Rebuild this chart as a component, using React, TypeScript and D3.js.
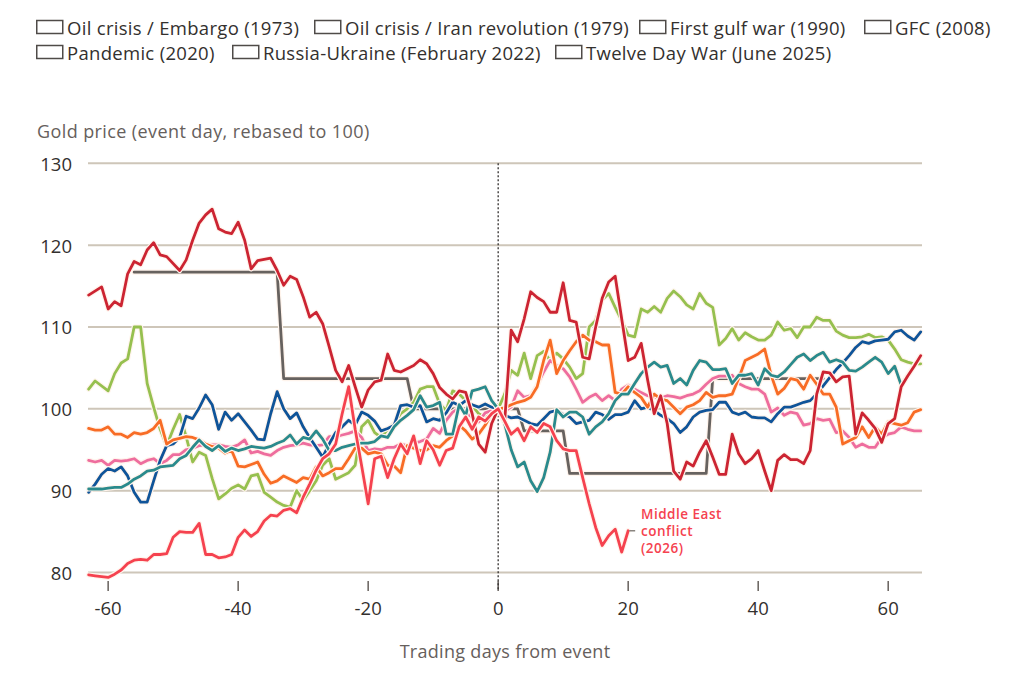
import React from "react";
import * as d3 from "d3";

// ---------- DATA ----------
const legendLabels = [
  "Oil crisis / Embargo (1973)",
  "Oil crisis / Iran revolution (1979)",
  "First gulf war (1990)",
  "GFC (2008)",
  "Pandemic (2020)",
  "Russia-Ukraine (February 2022)",
  "Twelve Day War (June 2025)",
];

const yTicks = [80, 90, 100, 110, 120, 130];
const xTicks = [-60, -40, -20, 0, 20, 40, 60];

const embargo1973: [number, number][] = [
  [-56, 116.7], [-34, 116.7], [-33, 103.7], [-14, 103.7], [-13, 100], [3, 100],
  [4, 97.3], [10, 97.3], [11, 92.1], [32, 92.1], [33, 103.7], [50, 103.7],
];

const iran1979: [number, number][] = [
  [-63, 113.9], [-61, 114.9], [-60, 112.2], [-59, 113.1], [-58, 112.6], [-57, 116.5], [-56, 118.0],
  [-55, 117.6], [-54, 119.4], [-53, 120.3], [-52, 118.8], [-51, 118.6], [-49, 116.9], [-48, 118.2],
  [-47, 120.6], [-46, 122.7], [-45, 123.7], [-44, 124.4], [-43, 122.0], [-42, 121.6], [-41, 121.4],
  [-40, 122.8], [-39, 120.6], [-38, 117.1], [-37, 118.1], [-35, 118.4], [-34, 116.9], [-33, 115.1],
  [-32, 116.2], [-31, 115.8], [-30, 113.7], [-29, 111.2], [-28, 111.8], [-27, 110.4], [-26, 107.6],
  [-25, 104.7], [-24, 103.3], [-23, 105.3], [-22, 102.7], [-21, 100.2], [-20, 102.3], [-19, 103.3],
  [-18, 103.5], [-17, 106.7], [-16, 104.7], [-15, 104.5], [-14, 104.9], [-13, 105.3], [-12, 106.0],
  [-11, 105.5], [-10, 104.3], [-9, 102.6], [-8, 101.8], [-7, 101.2], [-6, 102.2], [-5, 102.0],
  [-4, 99.4], [-3, 95.7], [-2, 94.7], [-1, 98.2], [0, 100], [1, 98.5], [2, 109.6], [3, 108.2],
  [4, 111.0], [5, 114.3], [6, 113.6], [7, 113.1], [8, 111.8], [9, 111.8], [10, 115.4], [11, 110.8],
  [12, 110.6], [13, 106.3], [14, 106.1], [15, 110.0], [16, 113.5], [17, 115.5], [18, 116.2],
  [19, 111.0], [20, 105.9], [21, 106.3], [22, 108.0], [23, 103.5], [24, 99.4], [25, 101.6],
  [26, 98.2], [27, 92.4], [28, 91.4], [29, 93.5], [30, 93.0], [31, 94.7], [32, 96.1], [33, 94.1],
  [34, 92.0], [35, 92.0], [36, 96.9], [37, 94.5], [38, 93.3], [39, 93.9], [40, 94.9], [41, 92.4],
  [42, 90.0], [43, 93.7], [44, 94.4], [45, 93.8], [46, 93.8], [47, 93.3], [48, 94.9], [49, 101.8],
  [50, 104.5], [51, 104.4], [52, 103.3], [53, 103.9], [54, 104.0], [55, 96.9], [56, 99.5],
  [57, 98.6], [58, 97.6], [59, 95.9], [60, 98.2], [61, 98.8], [62, 102.7], [63, 104.0], [64, 105.2],
  [65, 106.5],
];

const gulf1990: [number, number][] = [
  [-63, 102.4], [-62, 103.4], [-60, 102.2], [-59, 104.3], [-58, 105.6], [-57, 106.1], [-56, 110.0],
  [-55, 110.0], [-54, 103.1], [-53, 100.2], [-52, 97.5], [-51, 95.5], [-50, 97.5], [-49, 99.3],
  [-48, 96.6], [-47, 93.5], [-46, 94.7], [-45, 94.3], [-44, 91.5], [-43, 89.0], [-42, 89.6],
  [-41, 90.3], [-40, 90.7], [-39, 90.2], [-38, 91.8], [-37, 92.0], [-36, 89.8], [-35, 89.2],
  [-34, 88.6], [-33, 88.2], [-32, 88.0], [-31, 90.0], [-30, 88.8], [-29, 90.0], [-28, 91.2],
  [-27, 93.1], [-26, 93.9], [-25, 91.4], [-24, 91.8], [-23, 92.2], [-22, 93.1], [-21, 97.8],
  [-20, 98.6], [-19, 97.1], [-18, 96.5], [-17, 97.5], [-16, 98.2], [-15, 99.4], [-14, 100.0],
  [-13, 100.8], [-12, 102.4], [-11, 102.7], [-10, 102.7], [-9, 100.6], [-8, 99.8], [-7, 102.2],
  [-6, 101.8], [-5, 101.0], [-4, 100.4], [-3, 99.4], [-2, 99.0], [-1, 99.6], [0, 100], [1, 101.8],
  [2, 104.7], [3, 104.1], [4, 106.8], [5, 103.7], [6, 106.5], [7, 107.0], [8, 105.9], [9, 106.8],
  [10, 106.1], [11, 105.1], [12, 103.7], [13, 104.3], [14, 110.0], [15, 110.8], [16, 113.3],
  [17, 114.1], [18, 112.4], [19, 110.8], [20, 109.0], [21, 108.8], [22, 112.2], [23, 111.8],
  [24, 112.5], [25, 111.8], [26, 113.5], [27, 114.4], [28, 113.7], [29, 112.7], [30, 112.2],
  [31, 114.1], [32, 112.9], [33, 112.4], [34, 107.8], [35, 108.6], [36, 109.8], [37, 108.4],
  [38, 109.3], [39, 108.8], [40, 108.4], [41, 108.4], [42, 109.0], [43, 110.6], [44, 109.6],
  [45, 109.8], [46, 108.7], [47, 110.0], [48, 110.0], [49, 111.2], [50, 110.8], [51, 110.8],
  [52, 109.5], [53, 109.0], [54, 108.7], [55, 108.7], [56, 108.8], [57, 109.1], [58, 108.7],
  [59, 108.8], [60, 108.4], [61, 107.3], [62, 106.0], [63, 105.7], [64, 105.5], [65, 105.5],
];

const gfc2008: [number, number][] = [
  [-63, 89.8], [-62, 90.8], [-61, 92.0], [-60, 92.7], [-59, 92.4], [-58, 92.9], [-57, 91.8],
  [-56, 89.8], [-55, 88.6], [-54, 88.6], [-53, 91.2], [-52, 93.7], [-51, 95.5], [-50, 95.7],
  [-49, 96.5], [-48, 99.1], [-47, 98.8], [-46, 100.1], [-45, 101.7], [-44, 100.5], [-43, 97.5],
  [-42, 99.6], [-41, 98.6], [-40, 99.4], [-39, 98.4], [-38, 97.4], [-37, 96.3], [-36, 96.2],
  [-35, 99.4], [-34, 102.1], [-33, 100.0], [-32, 98.8], [-31, 99.5], [-30, 97.8], [-29, 96.5],
  [-28, 95.3], [-27, 94.1], [-26, 95.7], [-25, 97.1], [-24, 97.8], [-23, 98.6], [-22, 98.0],
  [-21, 99.6], [-20, 99.2], [-19, 98.5], [-18, 97.3], [-17, 97.6], [-16, 98.0], [-15, 100.4],
  [-14, 100.5], [-13, 100.2], [-12, 100.4], [-11, 98.4], [-10, 98.8], [-9, 98.6], [-8, 99.5],
  [-7, 100.8], [-6, 100.4], [-5, 101.0], [-4, 100.5], [-3, 100.2], [-2, 100.6], [-1, 100.2],
  [0, 100], [1, 99.2], [2, 98.9], [3, 99.0], [4, 98.6], [5, 98.2], [6, 98.0], [7, 98.8], [8, 99.6],
  [9, 99.8], [10, 99.3], [11, 99.0], [12, 98.2], [13, 98.4], [14, 98.6], [15, 99.6], [16, 99.3],
  [17, 98.7], [18, 99.3], [19, 99.3], [20, 99.6], [21, 101.0], [22, 100.0], [23, 100.2],
  [24, 99.8], [25, 99.2], [26, 98.8], [27, 98.2], [28, 97.1], [29, 97.8], [30, 99.0], [31, 99.6],
  [32, 99.8], [33, 99.9], [34, 100.8], [35, 100.8], [36, 99.6], [37, 99.3], [38, 99.6], [39, 99.0],
  [40, 98.9], [41, 98.9], [42, 98.4], [43, 99.4], [44, 100.2], [45, 100.2], [46, 100.5],
  [47, 100.8], [48, 101.0], [49, 101.8], [50, 102.8], [51, 103.8], [52, 104.8], [53, 105.6],
  [54, 106.5], [55, 107.5], [56, 108.2], [57, 108.0], [58, 108.3], [59, 108.4], [60, 108.5],
  [61, 109.4], [62, 109.6], [63, 108.9], [64, 108.4], [65, 109.4],
];

const pandemic2020: [number, number][] = [
  [-63, 90.2], [-62, 90.2], [-61, 90.2], [-60, 90.3], [-59, 90.4], [-58, 90.4], [-57, 90.8],
  [-56, 91.4], [-55, 91.8], [-54, 92.4], [-53, 92.5], [-52, 92.9], [-51, 93.0], [-50, 93.1],
  [-49, 93.9], [-48, 94.3], [-47, 95.3], [-46, 96.2], [-45, 95.4], [-44, 94.9], [-43, 95.5],
  [-42, 94.8], [-41, 95.2], [-40, 94.9], [-39, 95.1], [-38, 95.4], [-37, 95.3], [-36, 95.2],
  [-35, 95.4], [-34, 95.8], [-33, 96.1], [-32, 96.8], [-31, 95.7], [-30, 96.5], [-29, 96.3],
  [-28, 97.3], [-27, 96.3], [-26, 94.9], [-25, 94.9], [-24, 95.3], [-23, 95.5], [-22, 95.7],
  [-21, 95.8], [-20, 95.8], [-19, 96.0], [-18, 96.7], [-17, 96.5], [-16, 97.8], [-15, 98.6],
  [-14, 99.2], [-13, 99.9], [-12, 101.6], [-11, 100.2], [-10, 100.4], [-9, 100.8], [-8, 96.9],
  [-7, 96.9], [-6, 100.5], [-5, 99.2], [-4, 102.2], [-3, 102.4], [-2, 102.7], [-1, 101.0],
  [0, 100], [1, 98.2], [2, 95.0], [3, 92.9], [4, 93.5], [5, 91.2], [6, 89.9], [7, 91.6], [8, 94.7],
  [9, 99.9], [10, 99.0], [11, 99.6], [12, 99.6], [13, 99.0], [14, 96.9], [15, 97.8], [16, 98.4],
  [17, 99.4], [18, 101.0], [19, 101.8], [20, 101.8], [21, 103.1], [22, 104.3], [23, 105.1],
  [24, 105.7], [25, 105.1], [26, 105.3], [27, 103.1], [28, 103.7], [29, 102.9], [30, 104.7],
  [31, 105.9], [32, 105.7], [33, 104.8], [34, 104.8], [35, 104.9], [36, 103.1], [37, 104.1],
  [38, 104.1], [39, 104.3], [40, 102.9], [41, 104.9], [42, 104.1], [43, 103.9], [44, 104.5],
  [45, 105.4], [46, 106.3], [47, 106.7], [48, 105.9], [49, 106.5], [50, 106.9], [51, 105.7],
  [52, 106.0], [53, 105.7], [54, 104.7], [55, 104.6], [56, 105.1], [57, 105.7], [58, 106.3],
  [59, 105.7], [60, 104.3], [61, 105.2], [62, 102.9], [63, 104.1], [64, 105.3], [65, 106.5],
];

const ukraine2022: [number, number][] = [
  [-63, 97.6], [-62, 97.4], [-61, 97.4], [-60, 97.8], [-59, 96.9], [-58, 96.9], [-57, 96.5],
  [-56, 97.1], [-55, 96.9], [-54, 97.1], [-53, 97.6], [-52, 98.6], [-51, 95.7], [-50, 96.2],
  [-49, 96.4], [-48, 96.6], [-47, 96.5], [-46, 96.2], [-45, 95.7], [-44, 95.4], [-43, 95.2],
  [-42, 94.6], [-41, 94.9], [-40, 93.0], [-39, 92.9], [-38, 93.2], [-37, 93.5], [-36, 92.0],
  [-35, 90.9], [-34, 91.2], [-33, 91.8], [-32, 91.4], [-31, 91.0], [-30, 91.6], [-29, 91.4],
  [-28, 92.9], [-27, 91.8], [-26, 92.2], [-25, 92.7], [-24, 92.7], [-23, 93.9], [-22, 95.2],
  [-21, 95.2], [-20, 94.5], [-19, 94.7], [-18, 94.5], [-17, 93.1], [-16, 93.0], [-15, 92.2],
  [-14, 95.5], [-13, 95.2], [-12, 94.9], [-11, 95.0], [-10, 95.5], [-9, 95.3], [-8, 96.1],
  [-7, 96.7], [-6, 98.0], [-5, 97.3], [-4, 96.3], [-3, 96.9], [-2, 98.0], [-1, 99.4], [0, 100],
  [1, 100.1], [2, 100.5], [3, 100.8], [4, 101.0], [5, 101.4], [6, 102.7], [7, 105.9], [8, 108.4],
  [9, 104.3], [10, 105.9], [11, 107.1], [12, 108.2], [13, 109.0], [14, 108.4], [15, 108.2],
  [16, 107.8], [17, 107.8], [18, 102.0], [19, 101.8], [20, 102.7], [21, 102.0], [22, 101.4],
  [23, 100.2], [24, 101.8], [25, 101.2], [26, 101.0], [27, 100.2], [28, 99.4], [29, 100.2],
  [30, 100.5], [31, 101.0], [32, 102.0], [33, 101.4], [34, 101.6], [35, 101.6], [36, 101.8],
  [37, 103.7], [38, 105.9], [39, 106.3], [40, 106.7], [41, 107.3], [42, 104.1], [43, 101.8],
  [44, 102.5], [45, 103.7], [46, 103.5], [47, 102.4], [48, 104.1], [49, 103.0], [50, 101.8],
  [51, 101.8], [52, 100.2], [53, 95.7], [54, 96.1], [55, 96.5], [56, 97.8], [57, 96.5], [58, 97.8],
  [59, 96.9], [60, 98.4], [61, 98.2], [62, 98.0], [63, 98.3], [64, 99.6], [65, 99.9],
];

const twelveDay2025: [number, number][] = [
  [-63, 93.7], [-62, 93.5], [-61, 93.7], [-60, 93.1], [-59, 93.7], [-58, 93.6], [-57, 93.7],
  [-56, 93.9], [-55, 93.3], [-54, 93.7], [-53, 93.9], [-52, 93.3], [-51, 93.7], [-50, 94.4],
  [-49, 94.4], [-48, 95.0], [-47, 95.2], [-46, 95.5], [-45, 95.6], [-44, 95.6], [-43, 95.6],
  [-42, 95.4], [-41, 95.3], [-40, 95.6], [-39, 96.2], [-38, 94.6], [-37, 94.8], [-36, 94.5],
  [-35, 94.3], [-34, 94.9], [-33, 95.3], [-32, 95.5], [-31, 95.6], [-30, 95.8], [-29, 95.6],
  [-28, 95.5], [-27, 95.6], [-26, 96.6], [-25, 96.6], [-24, 96.8], [-23, 97.0], [-22, 97.3],
  [-21, 96.5], [-20, 94.9], [-19, 95.1], [-18, 95.0], [-17, 95.3], [-16, 95.3], [-15, 95.7],
  [-14, 95.5], [-13, 95.8], [-12, 96.0], [-11, 96.3], [-10, 97.6], [-9, 97.0], [-8, 98.6],
  [-7, 99.6], [-6, 100.1], [-5, 99.5], [-4, 99.0], [-3, 98.4], [-2, 99.5], [-1, 99.8], [0, 100],
  [1, 99.7], [2, 100.2], [3, 102.2], [4, 101.4], [5, 101.6], [6, 102.9], [7, 104.5], [8, 105.9],
  [9, 105.3], [10, 104.9], [11, 103.9], [12, 102.4], [13, 100.8], [14, 101.4], [15, 101.8],
  [16, 101.0], [17, 101.6], [18, 101.0], [19, 102.4], [20, 102.9], [21, 102.4], [22, 102.0],
  [23, 101.6], [24, 101.4], [25, 101.3], [26, 101.6], [27, 101.5], [28, 101.3], [29, 101.6],
  [30, 101.8], [31, 102.2], [32, 103.0], [33, 103.7], [34, 104.0], [35, 104.0], [36, 104.1],
  [37, 103.1], [38, 102.7], [39, 102.4], [40, 102.4], [41, 101.8], [42, 99.6], [43, 100.1],
  [44, 99.2], [45, 99.6], [46, 99.4], [47, 98.0], [48, 98.2], [49, 98.8], [50, 98.6], [51, 98.7],
  [52, 97.1], [53, 97.3], [54, 96.5], [55, 95.3], [56, 95.7], [57, 95.3], [58, 95.3], [59, 96.5],
  [60, 96.9], [61, 97.1], [62, 97.8], [63, 97.5], [64, 97.3], [65, 97.3],
];

const middleEast2026: [number, number][] = [
  [-63, 79.7], [-62, 79.6], [-61, 79.5], [-60, 79.4], [-59, 79.8], [-58, 80.3], [-57, 81.1],
  [-56, 81.5], [-55, 81.6], [-54, 81.5], [-53, 82.2], [-52, 82.2], [-51, 82.3], [-50, 84.3],
  [-49, 85.0], [-48, 84.9], [-47, 84.9], [-46, 86.0], [-45, 82.2], [-44, 82.2], [-43, 81.8],
  [-42, 81.9], [-41, 82.2], [-40, 84.3], [-39, 85.2], [-38, 84.4], [-37, 85.0], [-36, 86.3],
  [-35, 87.0], [-34, 86.9], [-33, 87.6], [-32, 87.8], [-31, 87.3], [-30, 89.2], [-29, 90.8],
  [-28, 92.5], [-27, 93.9], [-26, 94.5], [-25, 95.7], [-24, 99.4], [-23, 102.7], [-22, 97.5],
  [-21, 93.0], [-20, 88.4], [-19, 93.9], [-18, 94.2], [-17, 91.6], [-16, 93.9], [-15, 95.7],
  [-14, 94.5], [-13, 96.7], [-12, 93.3], [-11, 96.1], [-10, 95.0], [-9, 93.1], [-8, 94.9],
  [-7, 95.2], [-6, 97.8], [-5, 99.0], [-4, 97.5], [-3, 99.0], [-2, 98.5], [-1, 99.4], [0, 100],
  [1, 98.5], [2, 96.9], [3, 97.6], [4, 96.1], [5, 97.8], [6, 97.1], [7, 98.2], [8, 97.8], [9, 96.1],
  [10, 95.1], [11, 94.9], [12, 94.9], [13, 91.6], [14, 88.4], [15, 85.5], [16, 83.3], [17, 84.5],
  [18, 85.3], [19, 82.5], [20, 85.1],
];

const annotationLines = ["Middle East", "conflict", "(2026)"];

// ---------- STYLE / LAYOUT ----------
const FONT = "'Open Sans', Lato, sans-serif";
const seriesStyles = [
  { data: embargo1973, color: "#67625f" },
  { data: gulf1990, color: "#96c04f" },
  { data: twelveDay2025, color: "#ee6d9e" },
  { data: gfc2008, color: "#0f5499" },
  { data: ukraine2022, color: "#f86c25" },
  { data: pandemic2020, color: "#2a8a8c" },
  { data: iran1979, color: "#cc2432" },
  { data: middleEast2026, color: "#f5424f" },
];
const legendPos = [
  { x: 36, y: 27 }, { x: 314, y: 27 }, { x: 639, y: 27 }, { x: 864, y: 27 },
  { x: 36, y: 52 }, { x: 232, y: 52 }, { x: 555, y: 52 },
];

export default function App() {
  const x = d3.scaleLinear().domain([-63.1, 65.2]).range([88, 922]);
  const y = d3.scaleLinear().domain([80, 130]).range([572.5, 163.3]);
  const line = d3
    .line<[number, number]>()
    .x((d) => x(d[0]))
    .y((d) => y(d[1]));

  const last = middleEast2026[middleEast2026.length - 1];
  const ax = x(last[0]);
  const ay = y(last[1]);

  return (
    <svg
      width={1024}
      height={675}
      style={{ position: "absolute", left: 0, top: 0, background: "#fff" }}
      fontFamily={FONT}
    >
      {/* legend */}
      {legendLabels.map((lab, i) => (
        <g key={lab}>
          <rect
            x={legendPos[i].x + 0.75}
            y={legendPos[i].y - 6.5}
            width={26}
            height={13}
            fill="#fff"
            stroke="#4f4b48"
            strokeWidth={1.5}
          />
          <text
            x={legendPos[i].x + 31}
            y={legendPos[i].y}
            dominantBaseline="central"
            fontSize={18.5}
            letterSpacing={0.3}
            fill="#33302e"
          >
            {lab}
          </text>
        </g>
      ))}

      {/* y title */}
      <text x={37} y={131} dominantBaseline="central" fontSize={18} letterSpacing={0.4} fill="#66605c">
        Gold price (event day, rebased to 100)
      </text>

      {/* gridlines */}
      {yTicks.map((t) => (
        <g key={t}>
          <line x1={88} x2={922} y1={y(t)} y2={y(t)} stroke="#cec6b9" strokeWidth={2} />
          <text
            x={72}
            y={y(t)}
            textAnchor="end"
            dominantBaseline="central"
            fontSize={18.5}
            fill="#33302e"
          >
            {t}
          </text>
        </g>
      ))}

      {/* x ticks */}
      {xTicks.map((t) => (
        <g key={t}>
          <line x1={x(t)} x2={x(t)} y1={581} y2={591} stroke="#66605c" strokeWidth={1.5} />
          <text
            x={x(t)}
            y={607}
            textAnchor="middle"
            dominantBaseline="central"
            fontSize={18.5}
            fill="#33302e"
          >
            {t}
          </text>
        </g>
      ))}
      <text
        x={505}
        y={651}
        textAnchor="middle"
        dominantBaseline="central"
        fontSize={18}
        letterSpacing={0.3}
        fill="#66605c"
      >
        Trading days from event
      </text>

      {/* event day line */}
      <line
        x1={x(0)}
        x2={x(0)}
        y1={y(130)}
        y2={591}
        stroke="#33302e"
        strokeWidth={1.3}
        strokeDasharray="2,2"
      />

      {/* series */}
      {seriesStyles.map((s, i) => (
        <g key={i}>
          <path
            d={line(s.data) || ""}
            fill="none"
            stroke="#fff4ec"
            strokeWidth={5.2}
            strokeLinejoin="round"
            strokeLinecap="round"
          />
          <path
            d={line(s.data) || ""}
            fill="none"
            stroke={s.color}
            strokeWidth={2.8}
            strokeLinejoin="round"
            strokeLinecap="round"
          />
        </g>
      ))}

      {/* annotation */}
      <line x1={ax + 1} x2={ax + 7} y1={ay} y2={ay} stroke="#8a8580" strokeWidth={1.5} />
      <text
        x={641}
        y={519}
        fontSize={13.5}
        fontWeight={600}
        letterSpacing={0.5}
        fill="#f5424f"
        stroke="#fff"
        strokeWidth={3}
        paintOrder="stroke"
      >
        {annotationLines.map((t, i) => (
          <tspan key={t} x={641} dy={i === 0 ? 0 : 16.8}>
            {t}
          </tspan>
        ))}
      </text>
    </svg>
  );
}
